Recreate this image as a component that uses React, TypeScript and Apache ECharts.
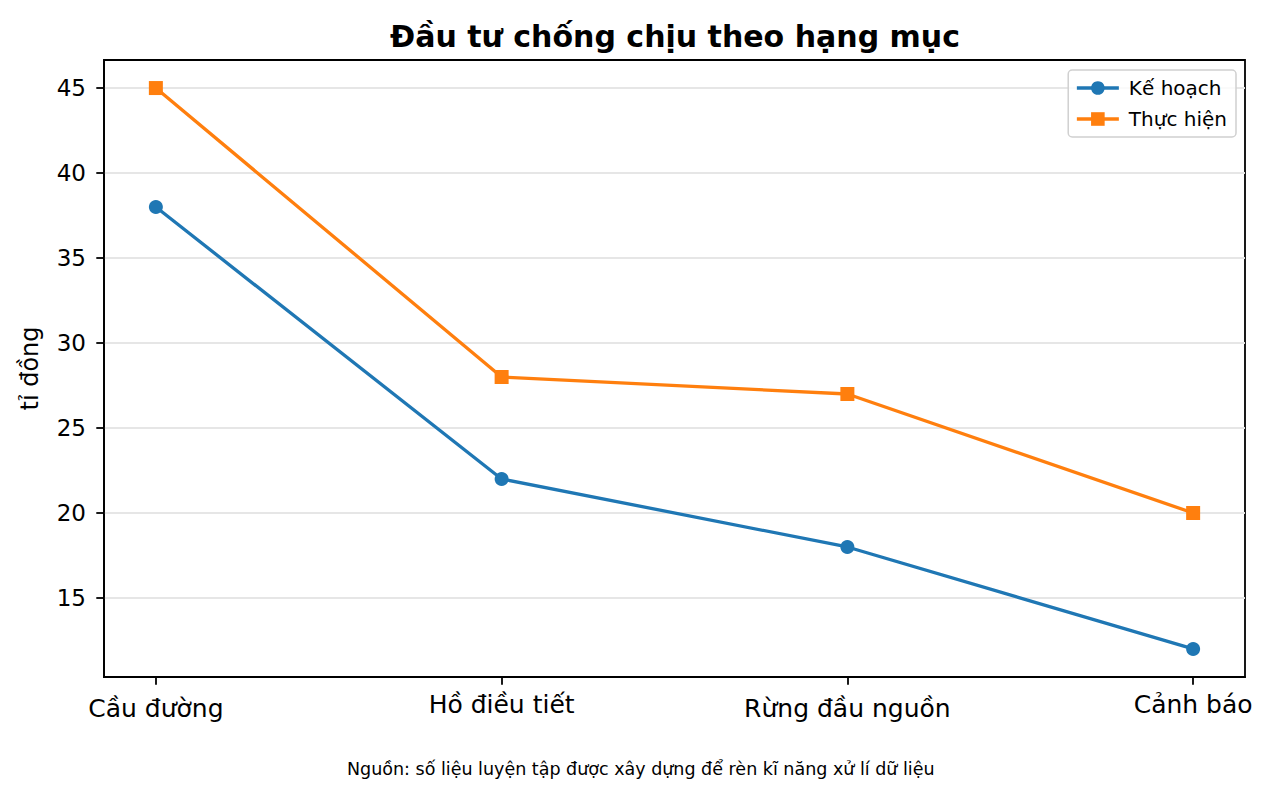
import { useEffect, useRef } from "react";
import * as echarts from "echarts";

// ─── Data ──────────────────────────────────────────────────────────
const CATEGORIES = ["Cầu đường", "Hồ điều tiết", "Rừng đầu nguồn", "Cảnh báo"];
const KE_HOACH = [38, 22, 18, 12];
const THUC_HIEN = [45, 28, 27, 20];
const Y_TICKS = [15, 20, 25, 30, 35, 40, 45];
const X_TICKS = [0, 1, 2, 3];

const FONT = "DejaVu Sans";
const BLUE = "#1f77b4";
const ORANGE = "#ff7f0e";

export default function App() {
  const ref = useRef<HTMLDivElement>(null);

  useEffect(() => {
    document.body.style.margin = "0";
    if (!ref.current) return;
    const chart = echarts.init(ref.current, undefined, { renderer: "svg" });

    const tickStyle = { show: true, length: 7.7, inside: false, lineStyle: { color: "#000", width: 1.8 } };

    chart.setOption({
      animation: false,
      backgroundColor: "#fff",
      textStyle: { fontFamily: FONT, color: "#000" },
      title: [
        {
          text: "Đầu tư chống chịu theo hạng mục",
          left: 385,
          top: 16,
          textStyle: { fontFamily: FONT, fontSize: 30, fontWeight: "bold", color: "#000" },
        },
        {
          text: "Nguồn: số liệu luyện tập được xây dựng để rèn kĩ năng xử lí dữ liệu",
          left: 342,
          top: 755,
          textStyle: { fontFamily: FONT, fontSize: 17.5, fontWeight: "normal", color: "#000" },
        },
      ],
      grid: {
        left: 104,
        right: 26,
        top: 60,
        bottom: 118,
        show: true,
        borderColor: "#000",
        borderWidth: 1.8,
        backgroundColor: "transparent",
      },
      legend: {
        orient: "vertical",
        right: 35,
        top: 70,
        padding: [8, 9, 8, 7],
        itemWidth: 42,
        itemHeight: 17,
        itemGap: 11,
        borderColor: "#d0d0d0",
        borderWidth: 1.5,
        borderRadius: 4,
        backgroundColor: "rgba(255,255,255,0.8)",
        lineStyle: { width: 3.3 },
        textStyle: { fontFamily: FONT, fontSize: 20, color: "#000", padding: [0, 0, 0, 5] },
        data: ["Kế hoạch", "Thực hiện"],
      },
      xAxis: {
        type: "value",
        min: -0.15,
        max: 3.15,
        axisLine: { show: true, onZero: false, lineStyle: { color: "#000", width: 1.8 } },
        axisTick: { ...tickStyle, customValues: X_TICKS },
        splitLine: { show: false },
        axisLabel: {
          customValues: X_TICKS,
          margin: 15,
          fontFamily: FONT,
          fontSize: 25,
          color: "#000",
          formatter: (v: number) => {
            const label = CATEGORIES[Math.round(v)] ?? "";
            return label.includes("g") ? `{d|${label}}` : `{n|${label}}`;
          },
          rich: {
            d: { fontFamily: FONT, fontSize: 25, color: "#000", padding: [4, 0, 0, 0] },
            n: { fontFamily: FONT, fontSize: 25, color: "#000" },
          },
        },
      },
      yAxis: {
        type: "value",
        min: 10.35,
        max: 46.65,
        name: "tỉ đồng",
        nameLocation: "middle",
        nameGap: 62,
        nameTextStyle: { fontFamily: FONT, fontSize: 24, color: "#000" },
        axisLine: { show: true, onZero: false, lineStyle: { color: "#000", width: 1.8 } },
        axisTick: { ...tickStyle, customValues: Y_TICKS },
        axisLabel: {
          customValues: Y_TICKS,
          margin: 18,
          fontFamily: FONT,
          fontSize: 23,
          color: "#000",
        },
        splitLine: { show: true, lineStyle: { color: "#e6e6e6", width: 1.8 } },
      },
      series: [
        {
          name: "Kế hoạch",
          type: "line",
          data: KE_HOACH.map((v, i) => [i, v]),
          symbol: "circle",
          symbolSize: 14,
          lineStyle: { color: BLUE, width: 3.3 },
          itemStyle: { color: BLUE },
          z: 3,
        },
        {
          name: "Thực hiện",
          type: "line",
          data: THUC_HIEN.map((v, i) => [i, v]),
          symbol: "rect",
          symbolSize: 14,
          lineStyle: { color: ORANGE, width: 3.3 },
          itemStyle: { color: ORANGE },
          z: 3,
        },
      ],
    });

    return () => chart.dispose();
  }, []);

  return <div ref={ref} style={{ width: 1271, height: 795 }} />;
}
